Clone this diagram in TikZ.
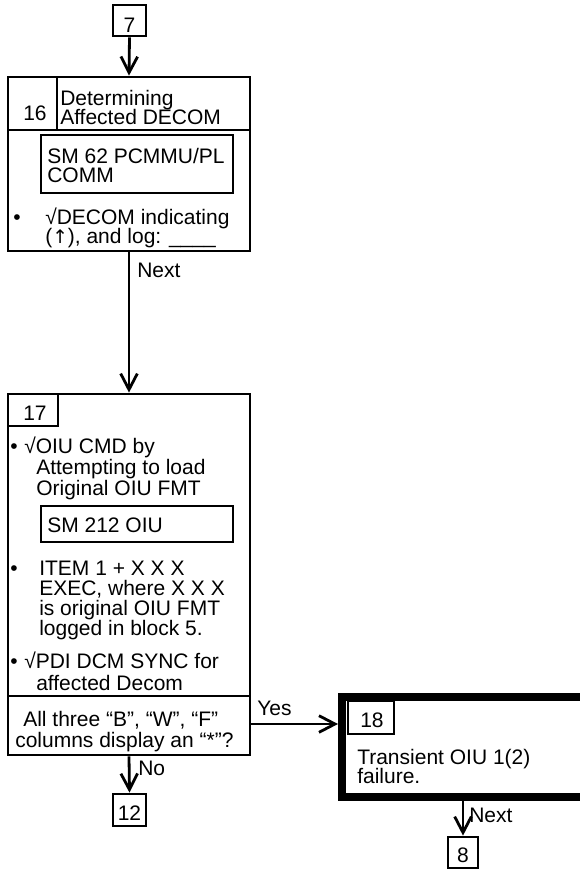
\documentclass[tikz,border=0pt]{standalone}
\usepackage{fontspec}
\setmainfont{Liberation Sans}
\newfontfamily\djv{DejaVu Sans}
\usetikzlibrary{fit,arrows.meta}
\newcommand\fsz{\fontsize{15.75pt}{15.5pt}\selectfont}
\tikzset{
  boxn/.style={draw, line width=2.1pt, inner sep=0pt, rectangle},
  heavybox/.style={draw, line width=6pt, inner sep=0pt, rectangle},
  txt/.style={anchor=base west, inner sep=0pt, font=\fsz},
  ctxt/.style={anchor=base, inner sep=0pt, font=\fsz},
  arr/.style={line width=2.1pt, -{Straight Barb[length=12pt,width=12.5pt]}},
  ln/.style={line width=2.1pt}
}
\begin{document}
\begin{tikzpicture}[x=0.75pt,y=-0.75pt]
\useasboundingbox (0,0) rectangle (580,871);
% boxes
\node[boxn, fit={(113,5)(146,36)}] (n7) {};
\node[boxn, fit={(8,77)(250,251)}] (b16) {};
\node[boxn, fit={(41,135)(233,193)}] (sm62) {};
\node[boxn, fit={(8,394)(250,755)}] (b17) {};
\node[boxn, fit={(8,394)(58,426)}] (h17) {};
\node[boxn, fit={(41,506)(233,542)}] (sm212) {};
\node[boxn, fit={(113,794)(146,826)}] (n12) {};
\node[heavybox, fit={(342,697)(592,797)}] (b18) {};
\node[boxn, fit={(348,701)(394,734)}] (h18) {};
\node[boxn, fit={(448,837)(478,868)}] (n8) {};
% dividers
\draw[ln] (8,130) -- (250,130);
\draw[ln] (57,77) -- (57,130);
\draw[ln] (8,696) -- (250,696);
% texts
\node[ctxt] (t7) at (129.5,32) {7};
\node[txt] (t16) at (23,120) {16};
\node[txt] (t16a) at (60,105) {Determining};
\node[txt] (t16b) at (60,124) {Affected DECOM};
\node[txt] (tsm62a) at (47,163) {SM 62 PCMMU/PL};
\node[txt] (tsm62b) at (47,182) {COMM};
\node[txt] (bul1) at (13,224) {•};
\node[txt] (t16c) at (45,224) {√DECOM indicating};
\node[txt] (t16d) at (45,243) {({\djv\fontsize{14pt}{14pt}\selectfont ↑}), and log: \_\_\_\_};
\node[txt] (next1) at (137,277) {Next};
\node[txt] (t17) at (23,420) {17};
\node[txt] (bul2) at (10,453) {•};
\node[txt] (t17a) at (24,453) {√OIU CMD by};
\node[txt] (t17b) at (36,474) {Attempting to load};
\node[txt] (t17c) at (36,495) {Original OIU FMT};
\node[txt] (tsm212) at (47,532) {SM 212 OIU};
\node[txt] (bul3) at (10,575) {•};
\node[txt] (t17d) at (39,575) {ITEM 1 + X X X};
\node[txt] (t17e) at (39,595) {EXEC, where X X X};
\node[txt] (t17f) at (39,615) {is original OIU FMT};
\node[txt] (t17g) at (39,635) {logged in block 5.};
\node[txt] (bul4) at (10,668) {•};
\node[txt] (t17h) at (24,668) {√PDI DCM SYNC for};
\node[txt] (t17i) at (36,690) {affected Decom};
\node[txt] (q1) at (23,726) {All three “B”, “W”, “F”};
\node[txt] (q2) at (15,747) {columns display an “*”?};
\node[txt] (yes) at (257,715) {Yes};
\node[txt] (no) at (138,775) {No};
\node[ctxt] (t12) at (129.5,820) {12};
\node[txt] (t18) at (360,727) {18};
\node[txt] (t18a) at (357,764) {Transient OIU 1(2)};
\node[txt] (t18b) at (357,783) {failure.};
\node[txt] (next2) at (469,822) {Next};
\node[ctxt] (t8) at (463,862) {8};
% connectors
\coordinate (ys) at (250,724);
\draw[arr] (n7.south) -- (b16.north);
\draw[arr] (b16.south) -- (b17.north);
\draw[arr] (b17.south) -- (n12.north);
\draw[arr] (ys) -- (ys -| b18.west);
\draw[arr] (n8.north |- b18.south) -- (n8.north);
\end{tikzpicture}
\end{document}
